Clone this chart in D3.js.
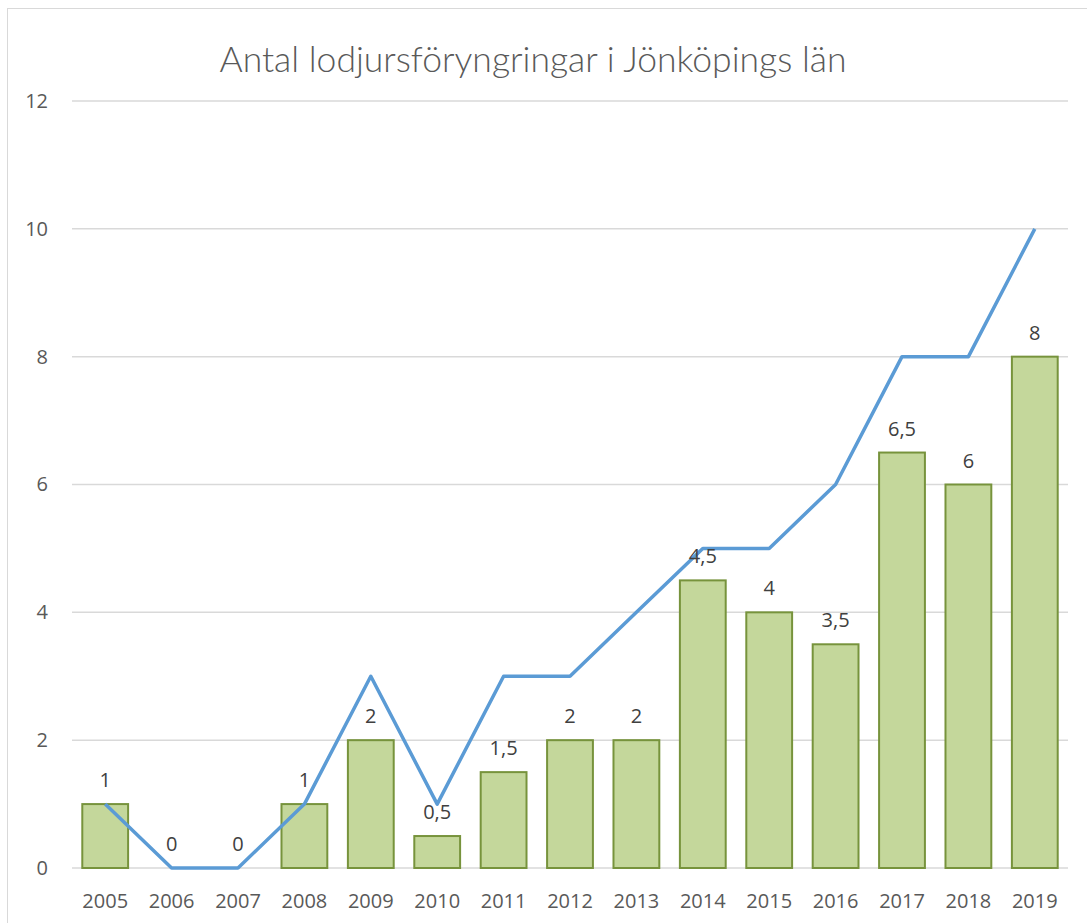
<!DOCTYPE html>
<html>
<head>
<meta charset="utf-8">
<script src="https://cdn.jsdelivr.net/npm/d3@7"></script>
<style>
  body { margin: 0; background: #fff; }
</style>
</head>
<body>
<div id="canvas"></div>
<script>
"use strict"

let years = ["2005", "2006", "2007", "2008", "2009", "2010", "2011", "2012", "2013", "2014", "2015", "2016", "2017", "2018", "2019"]
let barValues = [1, 0, 0, 1, 2, 0.5, 1.5, 2, 2, 4.5, 4, 3.5, 6.5, 6, 8]
let lineValues = [1, 0, 0, 1, 3, 1, 3, 3, 4, 5, 5, 6, 8, 8, 10]
let yTicks = [0, 2, 4, 6, 8, 10, 12]
let title = "Antal lodjursföryngringar i Jönköpings län"

let svgWidth = 1087
let svgHeight = 923
let margin = { top: 101, right: 19, bottom: 55, left: 72 }

let svg = d3.select("#canvas")
    .append("svg")
    .attr("width", svgWidth)
    .attr("height", svgHeight)

// chart frame
svg.append("rect")
    .attr("x", 7.5)
    .attr("y", 8.5)
    .attr("width", svgWidth + 10)
    .attr("height", svgHeight + 10)
    .attr("fill", "none")
    .attr("stroke", "#d9d9d9")

let xScale = d3.scaleBand()
    .domain(years)
    .range([margin.left, svgWidth - margin.right])
    .paddingInner(0.31)
    .paddingOuter(0.155)

let yScale = d3.scaleLinear()
    .domain([0, 12])
    .range([svgHeight - margin.bottom, margin.top])

let fmt = v => String(v).replace(".", ",")

/* gridlines */
svg.append("g")
    .selectAll("line")
    .data(yTicks)
    .enter()
    .append("line")
    .attr("x1", margin.left)
    .attr("x2", svgWidth - margin.right)
    .attr("y1", d => yScale(d))
    .attr("y2", d => yScale(d))
    .attr("stroke", "#d9d9d9")
    .attr("stroke-width", 1.5)

/* y axis labels */
let yAxis = d3.axisLeft(yScale).tickValues(yTicks).tickSize(0).tickPadding(0)
let yG = svg.append("g")
    .attr("transform", `translate(48,0)`)
    .call(yAxis)
yG.select(".domain").remove()
yG.selectAll("text")
    .attr("font-family", "'Open Sans', sans-serif")
    .attr("font-size", 20)
    .attr("fill", "#595959")

/* x axis labels */
let xAxis = d3.axisBottom(xScale).tickSize(0).tickPadding(0)
let xG = svg.append("g")
    .attr("transform", `translate(0,${svgHeight - margin.bottom + 26})`)
    .call(xAxis)
xG.select(".domain").remove()
xG.selectAll("text")
    .attr("font-family", "'Open Sans', sans-serif")
    .attr("font-size", 20)
    .attr("fill", "#595959")

/* bars */
svg.selectAll("rect.bar")
    .data(barValues)
    .enter()
    .append("rect")
    .attr("class", "bar")
    .attr("x", (d, i) => xScale(years[i]))
    .attr("y", d => yScale(d))
    .attr("width", xScale.bandwidth())
    .attr("height", d => yScale(0) - yScale(d))
    .attr("fill", "#c4d79b")
    .attr("stroke", "#77933c")
    .attr("stroke-width", 2)

/* line */
let line = d3.line()
    .x((d, i) => xScale(years[i]) + xScale.bandwidth() / 2)
    .y(d => yScale(d))

svg.append("path")
    .datum(lineValues)
    .attr("d", line)
    .attr("fill", "none")
    .attr("stroke", "#5b9bd5")
    .attr("stroke-width", 3.5)
    .attr("stroke-linejoin", "round")

/* data labels */
svg.selectAll("text.label")
    .data(barValues)
    .enter()
    .append("text")
    .attr("class", "label")
    .attr("x", (d, i) => xScale(years[i]) + xScale.bandwidth() / 2)
    .attr("y", d => yScale(d) - 17)
    .attr("text-anchor", "middle")
    .attr("font-family", "'Open Sans', sans-serif")
    .attr("font-size", 20)
    .attr("fill", "#404040")
    .text(d => fmt(d))

/* title */
svg.append("text")
    .attr("x", 533)
    .attr("y", 72)
    .attr("text-anchor", "middle")
    .attr("font-family", "Lato, sans-serif")
    .attr("font-weight", 300)
    .attr("font-size", 35.5)
    .attr("fill", "#595959")
    .text(title)
</script>
</body>
</html>
